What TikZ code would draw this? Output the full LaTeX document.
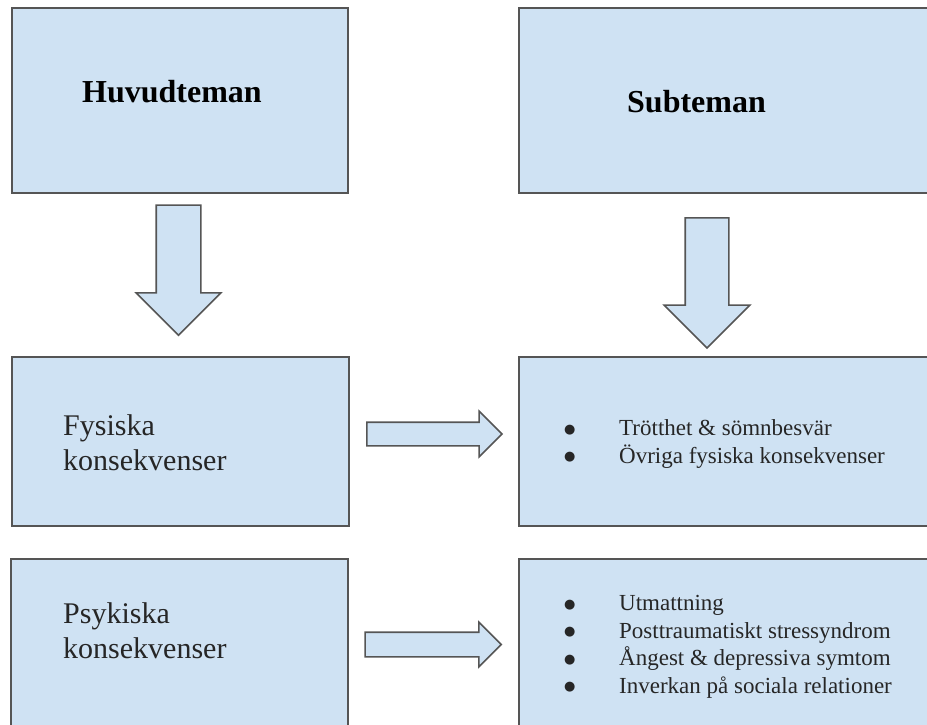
\documentclass[tikz,border=0pt]{standalone}
\usepackage{fontspec}
\setmainfont{Liberation Serif}
\newfontfamily\dotfont{DejaVu Sans}
\usetikzlibrary{shapes.arrows}
\definecolor{boxblue}{HTML}{CFE2F3}
\definecolor{boxline}{HTML}{555555}
\definecolor{inkgray}{HTML}{262626}
\tikzset{
  box/.style={draw=boxline, fill=boxblue, line width=1.8pt, rectangle, inner sep=0pt},
  blockarrow/.style={draw=boxline, fill=boxblue, line width=1.6pt, single arrow,
    single arrow head extend=#1, inner xsep=0pt},
  title/.style={font=\fontsize{32}{36}\selectfont\bfseries, text=black, inner sep=0pt},
  maintext/.style={font=\fontsize{30}{35}\selectfont, text=inkgray, align=left, inner sep=0pt},
  subtext/.style={font=\fontsize{23}{27.5}\selectfont, text=inkgray, align=left, inner sep=0pt},
}
\newcommand{\bulletitem}[1]{\makebox[55pt][l]{\raisebox{2.5pt}{\dotfont\fontsize{13}{13}\selectfont ●}}#1}
\begin{document}
\begin{tikzpicture}[x=1pt, y=-1pt]
  \useasboundingbox (0,0) rectangle (927,724);
  % boxes
  \node[box, minimum width=336pt, minimum height=185pt] (huvud) at (180,100.5) {};
  \node[box, minimum width=412pt, minimum height=185pt] (sub) at (725,100.5) {};
  \node[box, minimum width=337pt, minimum height=169pt] (fys) at (180.5,441.5) {};
  \node[box, minimum width=412pt, minimum height=169pt] (fyssub) at (725,441.5) {};
  \node[box, minimum width=337pt, minimum height=169pt] (psy) at (179.5,643.5) {};
  \node[box, minimum width=412pt, minimum height=169pt] (psysub) at (725,643.5) {};
  % arrows
  \node[blockarrow=20pt, inner ysep=21.5pt, rotate=-90, minimum width=83pt, minimum height=130pt] (down1) at (178.5,259) {};
  \node[blockarrow=21pt, inner ysep=21pt, rotate=-90, minimum width=85pt, minimum height=130pt] (down2) at (707,272) {};
  \node[blockarrow=11pt, inner ysep=11pt, minimum width=44pt, minimum height=135pt] (right1) at (428.5,434) {};
  \node[blockarrow=10pt, inner ysep=11.5pt, minimum width=43pt, minimum height=136pt] (right2) at (427,644.5) {};
  % texts
  \node[title, anchor=base west] (huvudtxt) at (82,102) {Huvudteman};
  \node[title, anchor=base west] (subtxt) at (627,112) {Subteman};
  \node[maintext, anchor=base west] (fystxt) at (63,470) {Fysiska\\konsekvenser};
  \node[maintext, anchor=base west] (psytxt) at (63,658) {Psykiska\\konsekvenser};
  \node[subtext, anchor=base west] (fyslist) at (564,463)
    {\bulletitem{Trötthet \& sömnbesvär}\\\bulletitem{Övriga fysiska konsekvenser}};
  \node[subtext, anchor=base west] (psylist) at (564,693)
    {\bulletitem{Utmattning}\\\bulletitem{Posttraumatiskt stressyndrom}\\
     \bulletitem{Ångest \& depressiva symtom}\\\bulletitem{Inverkan på sociala relationer}};
\end{tikzpicture}
\end{document}
